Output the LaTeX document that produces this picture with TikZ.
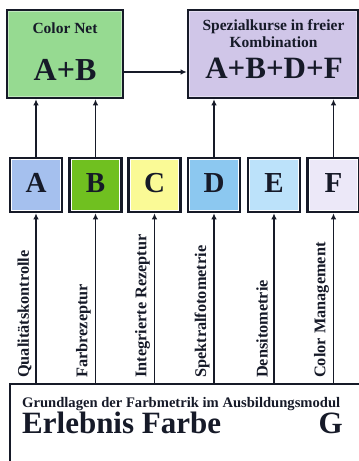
\documentclass[tikz,border=0pt]{standalone}
\usepackage{fontspec}
\setmainfont{Liberation Serif}
\usetikzlibrary{arrows.meta,calc}
\newcommand\myfs[1]{\fontsize{#1}{#1}\selectfont\bfseries}
\definecolor{bord}{RGB}{22,26,40}
\definecolor{cTL}{RGB}{150,218,145}
\definecolor{cTR}{RGB}{208,198,232}
\definecolor{cA}{RGB}{165,192,238}
\definecolor{cB}{RGB}{112,192,32}
\definecolor{cC}{RGB}{250,250,150}
\definecolor{cD}{RGB}{140,200,240}
\definecolor{cE}{RGB}{188,226,250}
\definecolor{cF}{RGB}{236,232,248}
\tikzset{
  box/.style={draw=bord, line width=2.6pt, minimum width=#1, inner sep=0pt},
  inline/.style={path picture={\draw[#1,line width=0.9pt]
     ([shift={(1.9pt,1.9pt)}]path picture bounding box.south west) rectangle
     ([shift={(-1.9pt,-1.9pt)}]path picture bounding box.north east);}},
  letter/.style={box=52pt, minimum height=54pt, inline=white},
  arr/.style={draw=bord, line width=1.3pt, -{Latex[length=6pt,width=5.5pt]}},
  lbl/.style={inner sep=0pt, font=\myfs{16.3}, text=bord},
  txt/.style={inner sep=0pt, text=bord, anchor=base},
}
\begin{document}
\begin{tikzpicture}[x=1pt,y=-1pt]
\useasboundingbox[fill=white] (0,0) rectangle (359,461);
% top boxes
\node[box=116pt, minimum height=88pt, fill=cTL, inline=cTL!60!white] (tl) at (65,54) {};
\node[box=170pt, minimum height=88pt, fill=cTR, inline=cTR!60!white] (tr) at (273,54) {};
\node[txt, font=\myfs{15.5}] (tlt) at (65,33) {Color Net};
\node[txt, font=\myfs{32}] (tlb) at (65,80) {A+B};
\node[txt, font=\myfs{15.5}] (trt1) at (273.5,30) {Spezialkurse in freier};
\node[txt, font=\myfs{15.5}] (trt2) at (273.5,47) {Kombination};
\node[txt, font=\myfs{31}] (trb) at (274,78) {A+B+D+F};
% letter boxes
\node[letter, fill=cA] (A) at (36,185) {};
\node[letter, fill=cB] (B) at (95.5,185) {};
\node[letter, fill=cC] (C) at (154.5,185) {};
\node[letter, fill=cD] (D) at (214,185) {};
\node[letter, fill=cE] (E) at (274,185) {};
\node[letter, fill=cF] (F) at (333.5,185) {};
\foreach \n in {A,B,C,D,E,F}{
  \node[txt, font=\myfs{29}] (\n t) at ($(\n)+(0,7.5)$) {\n};
}
% bottom box
\node[box=352pt, minimum height=90pt, fill=white] (bot) at (186,429) {};
\node[txt, font=\myfs{14.6}, anchor=base west] (bt1) at (22,407) {Grundlagen der Farbmetrik im Ausbildungsmodul};
\node[txt, font=\myfs{31}, anchor=base west] (bt2) at (22,433) {Erlebnis Farbe};
\node[txt, font=\myfs{31}, anchor=base east] (bt3) at (343,433) {G};
% rotated labels
\node[lbl, rotate=90, anchor=west] (l1) at (24.5,378) {Qualitätskontrolle};
\node[lbl, rotate=90, anchor=west] (l2) at (83.5,378) {Farbrezeptur};
\node[lbl, rotate=90, anchor=west] (l3) at (142.5,378) {Integrierte Rezeptur};
\node[lbl, rotate=90, anchor=west] (l4) at (202,378) {Spektralfotometrie};
\node[lbl, rotate=90, anchor=west] (l5) at (262,378) {Densitometrie};
\node[lbl, rotate=90, anchor=west] (l6) at (321.5,378) {Color Management};
% connectors
\foreach \n in {A,B,C,D,E,F}{
  \draw[arr] (\n.south |- bot.north) -- (\n.south);
}
\draw[arr] (A.north) -- (A.north |- tl.south);
\draw[arr] (B.north) -- (B.north |- tl.south);
\draw[arr] (D.north) -- (D.north |- tr.south);
\draw[arr] (F.north) -- (F.north |- tr.south);
\draw[arr] ([yshift=-18pt]tl.east) -- ([yshift=-18pt]tr.west);
\end{tikzpicture}
\end{document}
